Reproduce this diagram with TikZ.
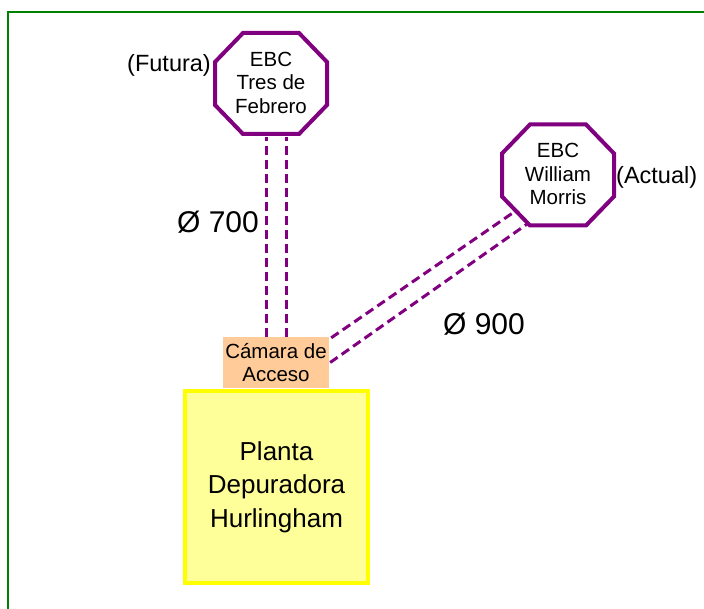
\documentclass[tikz,border=0pt]{standalone}
\usepackage{fontspec}
\setmainfont{Liberation Sans}
\usetikzlibrary{calc}
\definecolor{octpurple}{HTML}{800080}
\definecolor{framegreen}{HTML}{008000}
\definecolor{peach}{HTML}{FFCC99}
\definecolor{paleyellow}{HTML}{FFFF99}
\definecolor{brightyellow}{HTML}{FFFF00}
\newcommand\myoctagon[1]{%
  \draw[octo] (#1.center) +(-28,50.5) -- +(28,50.5) -- +(56,21.5) -- +(56,-21.5)
    -- +(28,-50.5) -- +(-28,-50.5) -- +(-56,-21.5) -- +(-56,21.5) -- cycle;}
\begin{document}
\begin{tikzpicture}[x=1pt,y=1pt,
  octo/.style={draw=octpurple,line width=4pt,fill=white,line join=miter},
  octtext/.style={align=center,font=\fontsize{20.5}{23.5}\selectfont,inner sep=0pt},
  sidelabel/.style={font=\fontsize{23.5}{26}\selectfont,inner sep=0pt},
  dimlabel/.style={font=\fontsize{30}{32}\selectfont,inner sep=0pt},
  pipe/.style={draw=octpurple,line width=3pt,dash pattern=on 9pt off 5pt},
  camarabox/.style={fill=peach,minimum width=106pt,minimum height=51pt,inner sep=0pt,
    align=center,font=\fontsize{20.5}{23.5}\selectfont},
  plantabox/.style={draw=brightyellow,fill=paleyellow,line width=4pt,
    minimum width=183pt,minimum height=192pt,inner sep=0pt,align=center,
    font=\fontsize{26}{33.5}\selectfont}]
\useasboundingbox (0,0) rectangle (704,608);
\draw[framegreen,line width=1.5pt] (8,-2) -- (8,596) -- (706,596);

% nodes
\node[plantabox] (planta) at (276.5,121) {Planta\\Depuradora\\Hurlingham};
\node[camarabox] (camara) at (276,245.5) {Cámara de\\Acceso};
\coordinate (tres) at (271,524.5);
\coordinate (wm) at (558,433);

% pipes
\draw[pipe] ([xshift=-10pt]camara.north) -- ([xshift=-10pt]camara.north |- 0,471);
\draw[pipe] ([xshift=10pt]camara.north) -- ([xshift=10pt]camara.north |- 0,471);
\draw[pipe] ([xshift=2pt,yshift=-1pt]camara.north east) -- ($(wm)+(-41,-35)$);
\draw[pipe] ([xshift=1pt,yshift=0pt]camara.east) -- ($(wm)+(-28,-47)$);

% octagons
\myoctagon{tres}
\myoctagon{wm}
\node[octtext] (trestext) at ([yshift=1pt]tres) {EBC\\Tres de\\Febrero};
\node[octtext] (wmtext) at ([yshift=1pt]wm) {EBC\\William\\Morris};

% labels
\node[sidelabel,anchor=east] (futura) at (211,543) {(Futura)};
\node[sidelabel,anchor=west] (actual) at (616,431) {(Actual)};
\node[dimlabel] (d700) at (218,386) {Ø 700};
\node[dimlabel] (d900) at (484,284) {Ø 900};
\end{tikzpicture}
\end{document}
